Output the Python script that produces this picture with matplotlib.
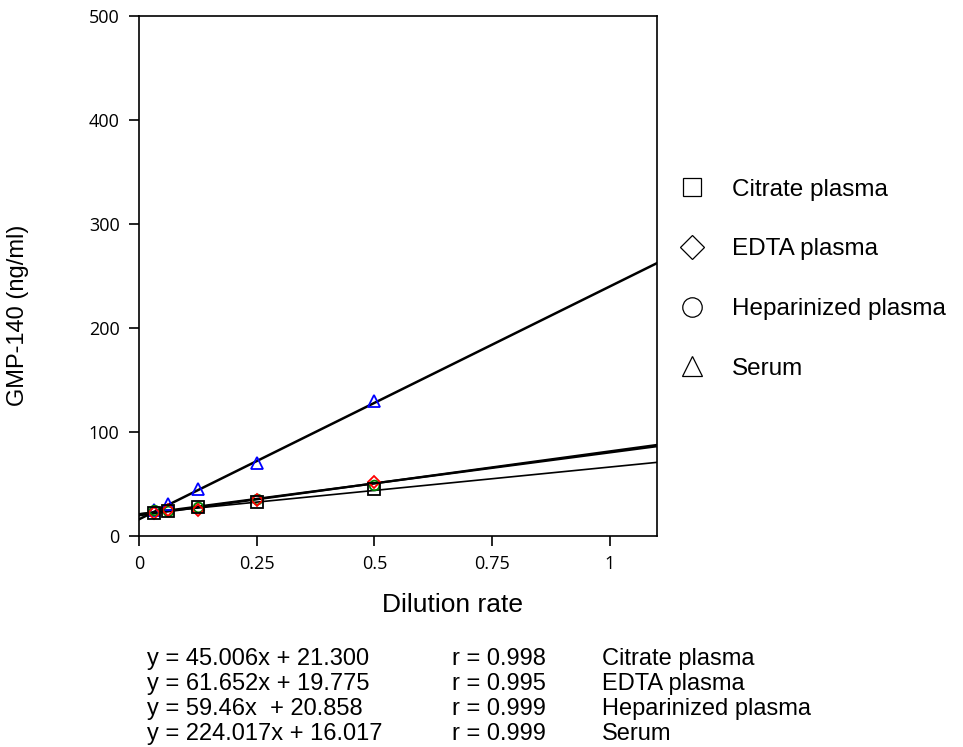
import numpy as np
import matplotlib
matplotlib.use("Agg")
import matplotlib.pyplot as plt

# dilution points
dilution = [1/32, 1/16, 1/8, 1/4, 1/2]

names = ["Citrate plasma", "EDTA plasma", "Heparinized plasma", "Serum"]
citrate = [22, 24, 28, 33, 45]
edta = [22, 25, 25, 35, 52]
heparin = [25, 24, 28, 36, 49]
serum = [25, 31, 45, 70, 130]

slopes = [45.006, 61.652, 59.46, 224.017]
intercepts = [21.300, 19.775, 20.858, 16.017]
slope_txt = ["45.006x", "61.652x", "59.46x ", "224.017x"]
icpt_txt = ["21.300", "19.775", "20.858", "16.017"]
r_vals = ["0.998", "0.995", "0.999", "0.999"]

markers = ["s", "D", "o", "^"]
colors = ["black", "red", "green", "blue"]
msizes = [8, 6, 7, 8]
line_w = [1.2, 1.6, 1.6, 1.8]

fig = plt.figure(figsize=(9.63, 7.47), dpi=100)
ax = fig.add_axes([0.1443, 0.2825, 0.538, 0.696])

xfit = np.array([0, 1.1])
for s, b, lw in zip(slopes, intercepts, line_w):
    ax.plot(xfit, s * xfit + b, color="black", lw=lw, zorder=2)

series = [citrate, edta, heparin, serum]
# draw serum/heparin/edta first so squares sit on top
for i in [3, 2, 1, 0]:
    ax.plot(dilution, series[i], linestyle="none", marker=markers[i],
            markersize=msizes[i], markerfacecolor="none",
            markeredgecolor=colors[i], markeredgewidth=1.3, zorder=3)

ax.set_xlim(0, 1.1)
ax.set_ylim(0, 500)
ax.set_xticks([0, 0.25, 0.5, 0.75, 1])
ax.set_xticklabels(["0", "0.25", "0.5", "0.75", "1"])
ax.set_yticks([0, 100, 200, 300, 400, 500])
ax.tick_params(direction="out", length=7, width=1.2, labelsize=13, pad=7)
for lab in ax.get_xticklabels() + ax.get_yticklabels():
    lab.set_family("Open Sans")
for sp in ax.spines.values():
    sp.set_linewidth(1.2)

ax.set_xlabel("Dilution rate", fontsize=19, family="Liberation Sans")
ax.xaxis.set_label_coords(0.606, -0.11)
ax.set_ylabel("GMP-140 (ng/ml)", fontsize=17, family="Liberation Sans")
ax.yaxis.set_label_coords(-0.212, 0.425)

# legend with open black markers
handles = []
for m, ms in zip(markers, [13, 12, 14, 14]):
    h, = ax.plot([], [], linestyle="none", marker=m, markersize=ms,
                 markerfacecolor="none", markeredgecolor="black", markeredgewidth=0.9)
    handles.append(h)
fig.legend(handles, names, loc="upper left", bbox_to_anchor=(0.677, 0.79),
           frameon=False, prop={"family": "Liberation Sans", "size": 17.5},
           labelspacing=1.55, handletextpad=0.9, handlelength=1.5)

# equations below the chart
y0 = 1 - 659 / 747
dy = 25 / 747
for i in range(4):
    yy = y0 - i * dy
    fig.text(147 / 963, yy, "y = " + slope_txt[i] + " + " + icpt_txt[i],
             fontsize=17, family="Liberation Sans", va="center")
    fig.text(452 / 963, yy, "r = " + r_vals[i],
             fontsize=17, family="Liberation Sans", va="center")
    fig.text(602 / 963, yy, names[i],
             fontsize=17, family="Liberation Sans", va="center")

fig.savefig("out.png", dpi=100)
